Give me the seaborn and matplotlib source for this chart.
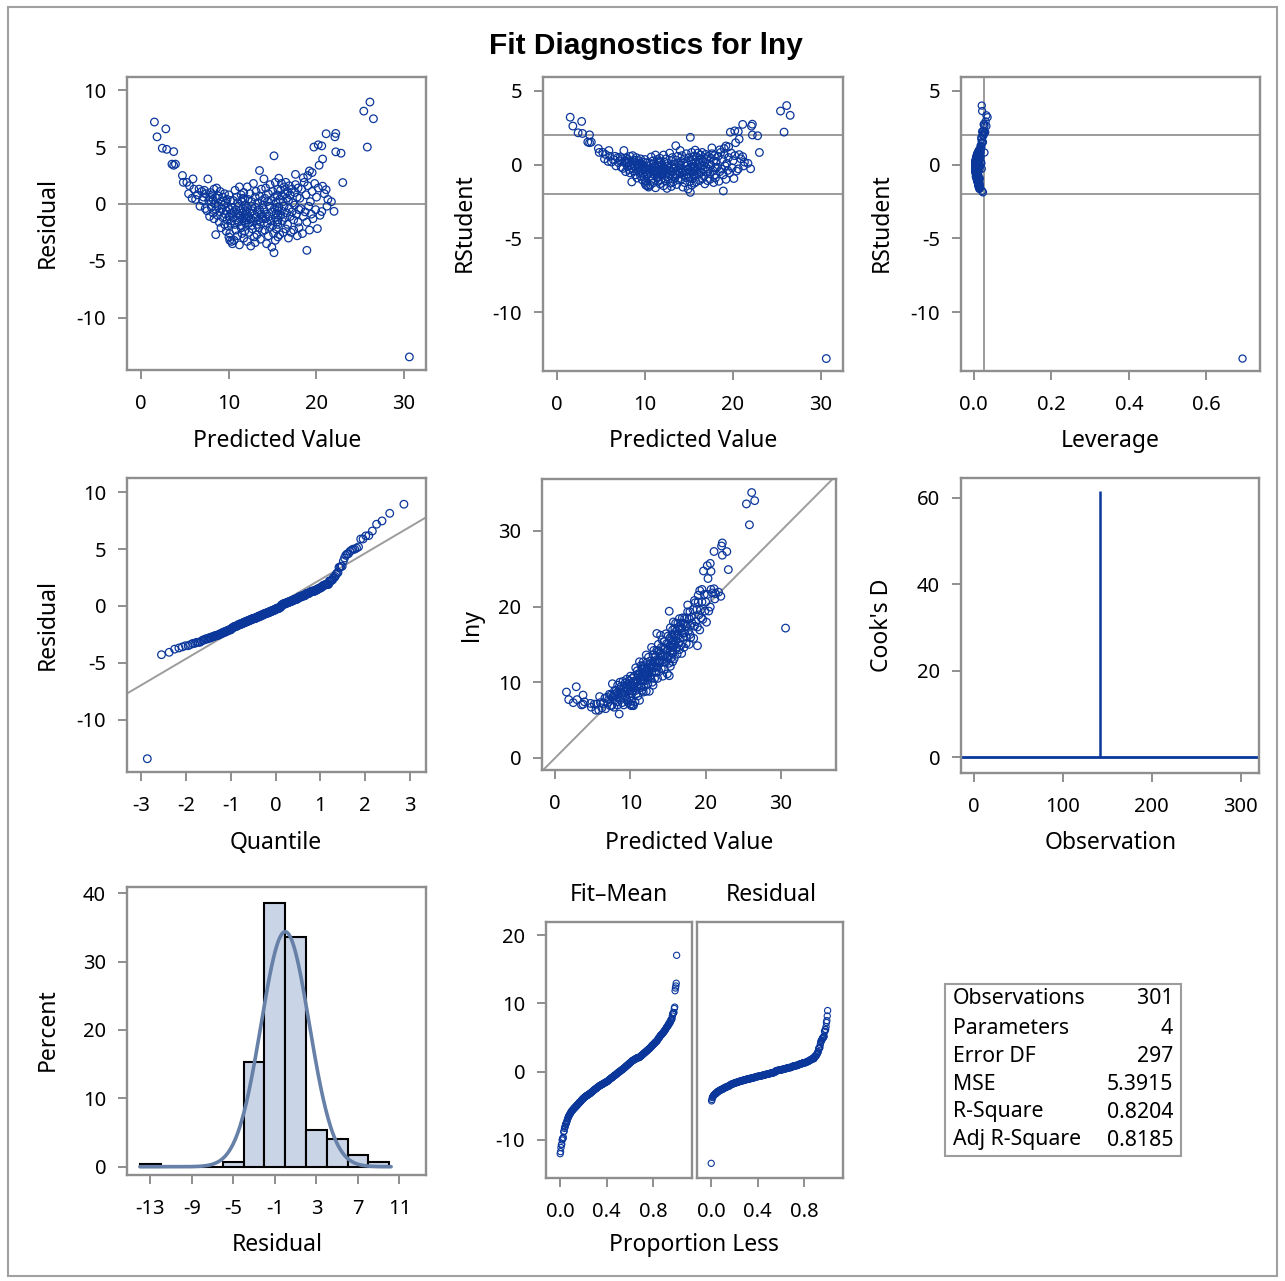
import numpy as np
import pandas as pd
import matplotlib
matplotlib.use("Agg")
import matplotlib.pyplot as plt
from matplotlib.patches import Rectangle
from matplotlib.ticker import FormatStrFormatter
import seaborn as sns

# ---------------- data ----------------
# predicted values, observation order (obs 142 is the influential point)
PRED = [
    1.5, 1.8, 2.4, 2.8, 2.9,
    3.5, 3.7, 3.7, 3.9, 4.7, 4.8,
    5.2, 5.4, 5.5, 5.8, 5.9, 6.0, 6.2, 6.4, 6.6, 6.7, 6.9, 7.0, 7.1, 7.2, 7.3,
    7.4, 7.5, 7.6, 7.7, 7.8, 7.8, 7.9, 8.0, 8.0, 8.1, 8.2, 8.2, 8.3, 8.3, 8.4,
    8.5, 8.5, 8.6, 8.6, 8.7, 8.8, 8.8, 8.9, 9.0, 9.0, 9.1, 9.1, 9.2, 9.3, 9.3,
    9.4, 9.5, 9.5, 9.6, 9.6, 9.7, 9.7, 9.8, 9.8, 9.9, 9.9, 10.0, 10.0, 10.0,
    10.1, 10.1, 10.1, 10.2, 10.2, 10.3, 10.3, 10.3,
    10.4, 10.4, 10.5, 10.5, 10.6, 10.6, 10.7, 10.7, 10.8, 10.8, 10.9, 10.9,
    11.0, 11.0, 11.0, 11.1, 11.1, 11.2, 11.2, 11.3, 11.3, 11.4, 11.4, 11.4,
    11.5, 11.5, 11.5, 11.6, 11.6, 11.6, 11.7, 11.7, 11.7, 11.8, 11.8, 11.8,
    11.9, 11.9, 11.9, 12.0, 12.0, 12.0,
    12.1, 12.1, 12.1, 12.2, 12.2, 12.3, 12.3, 12.4, 12.4, 12.5, 12.5, 12.6,
    12.6, 12.6, 12.7, 12.7, 12.8, 12.8, 12.9, 12.9, 13.0,
    30.6,
    13.0, 13.0, 13.1, 13.1, 13.2, 13.2, 13.3, 13.3, 13.4, 13.4, 13.5, 13.5,
    13.5, 13.6, 13.6, 13.7, 13.7, 13.8, 13.8, 13.8, 13.9, 13.9,
    14.0, 14.0, 14.1, 14.1, 14.2, 14.2, 14.3, 14.3, 14.4, 14.4, 14.5, 14.5,
    14.6, 14.6, 14.7, 14.7, 14.8, 14.8, 14.9, 14.9, 15.0, 15.0, 15.1, 15.15,
    15.15, 15.2, 15.2, 15.3, 15.3, 15.3, 15.4, 15.4, 15.4, 15.5, 15.5, 15.5,
    15.6, 15.6, 15.6, 15.6, 15.6, 15.6,
    15.7, 15.7, 15.8, 15.8, 15.9, 15.9, 16.0, 16.0, 16.1, 16.1, 16.2, 16.2,
    16.3, 16.3, 16.4, 16.4, 16.5, 16.5, 16.6, 16.6, 16.7, 16.7, 16.8, 16.8,
    16.9, 16.9, 17.0, 17.0, 17.1, 17.2, 17.2, 17.3, 17.4, 17.4, 17.5, 17.5,
    17.6, 17.6, 17.7, 17.8, 17.8, 17.9, 17.9, 18.0, 18.0,
    18.1, 18.2, 18.3, 18.4, 18.5, 18.5, 18.6, 18.7, 18.8, 18.9, 18.9, 19.0,
    19.0, 19.1, 19.2, 19.2, 19.3, 19.4, 19.5, 19.5, 19.6, 19.7, 19.8, 19.9,
    20.0, 20.1, 20.2, 20.2, 20.3, 20.4,
    20.6, 20.6, 20.7, 20.7, 20.9, 21.1, 21.1, 21.2, 21.3, 21.7, 22.0, 22.1,
    22.2, 22.2, 22.8, 23.0,
    25.4, 25.8, 26.1, 26.5,
]

RESID = [
    7.2, 5.9, 4.9, 6.6, 4.8,
    3.5, 3.4, 4.6, 3.5, 2.5, 1.9,
    1.9, 0.9, 1.6, 0.5, 2.2, 1.3, 0.4, 0.8, 1.3, -0.2, 1.1, 0.3, 0.6, 1.2, -0.4,
    0.9, -0.6, 2.2, 0.3, -1.1, 0.6, 1.0, -0.3, 0.2, 0.8, -0.8, 0.4, -1.3, 1.3, 0.0,
    -2.7, -0.5, 1.4, 0.5, -1.0, -0.2, 0.7, -1.6, 1.1, -0.7, 0.2, -2.1, -0.4, 0.6, -1.2,
    -0.1, -1.8, 0.9, -0.9, 0.1, -2.4, -0.6, 0.4, -1.4, -0.3, -1.95, 0.8, -1.1, -2.9,
    -2.6, -0.5, -3.2, -1.7, 0.3, -3.3, -0.8, -1.5,
    -0.3, -3.5, 0.3, -1.2, -0.7, -3.2, 1.2, -1.8, -0.5, -2.3, 0.6, -1.4,
    -0.9, -2.8, 0.1, -1.6, -0.2, -3.6, 1.5, -1.1, -0.6, -2.1, 0.8, -1.9,
    -1.3, 0.2, -2.6, -0.8, 0.5, -0.4, -3.0, -1.5, 1.0, -1.0, -2.4, 0.4,
    -1.7, -0.1, -1.2, -0.6, -1.4, -0.9,
    1.5, -0.4, -3.3, -1.1, 0.4, -1.7, -2.5, -0.8, 0.9, -1.3, -3.7, -0.2,
    0.2, -1.9, -2.2, -0.6, 1.8, -1.5, -2.9, -1.0, 0.6,
    -13.45,
    -0.3, -3.4, -1.2, 1.1, -1.8, -2.7, -0.7, 0.1, -1.4, -2.1, 2.94, -0.5,
    0.7, -1.6, -3.1, -0.9, 1.3, -1.1, -2.4, 0.3, -0.1, -1.3,
    2.2, -0.5, -2.3, 0.5, -1.3, 1.4, -0.9, -3.5, 0.2, -1.7, -2.8, 0.9,
    -0.2, -1.1, 1.7, -2.05, -1.5, 0.3, -3.8, -0.7, 1.1, -1.9, -2.6, -4.29,
    4.23, 0.6, -0.4, -3.2, 1.9, -1.2, -0.8, -2.2, 0.1, -1.6, 0.8, -0.3,
    -2.9, 1.3, -1.0, -1.4, -0.6, -1.8,
    2.26, -0.3, 0.4, -2.7, -1.0, 1.2, -0.6, 1.8, -1.5, 0.7, -2.5, 0.2,
    -0.2, 1.5, -1.2, 0.9, -2.2, 1.9, -0.8, 0.5, -1.8, 1.1, -3.0, 0.3,
    -0.4, 1.6, -1.1, 0.8, -2.5, 1.3, -0.7, 0.1, -1.4, -2.3, 1.0, -0.1,
    2.6, 1.7, -0.9, -2.8, 0.6, -1.6, 1.4, -2.1, -0.5,
    0.5, -0.4, 1.3, -2.6, 2.3, -1.1, 1.9, -0.7, 0.8, -4.08, -1.6, 2.5,
    1.6, -0.2, -2.3, 2.9, 0.2, -0.9, 2.76, 1.1, -1.3, 5.0, 1.8, -0.5,
    0.6, -2.17, 5.2, 1.4, 3.4, -1.0,
    5.1, -0.67, 3.95, 1.56, 0.9, 6.17, 1.25, -0.2, 0.4, 0.2, -0.65, 5.9,
    4.58, 6.2, 4.46, 1.88,
    8.16, 5.0, 8.96, 7.49,
]

# leverage (hat values) in thousandths
LEVERAGE_MILLI = [
    36, 33, 28, 31, 27,
    24, 22, 25, 21, 19, 18,
    17, 15, 16, 14, 13, 15, 12, 14, 11, 13, 12, 10, 11, 12, 9,
    12, 9, 14, 8, 11, 7, 10, 6, 9, 12, 8, 5, 11, 7, 9, 13, 6, 10, 8, 12,
    5, 9, 7, 11, 6, 10, 14, 8, 5, 9, 12, 7, 6, 10, 8, 11, 5, 9, 7, 13,
    6, 8, 10, 15, 12, 7, 16, 9, 6, 14, 8, 11,
    6, 15, 8, 5, 9, 13, 7, 6, 10, 8, 5, 7, 9, 11, 6, 8, 4, 16, 10, 7,
    5, 9, 6, 8, 5, 7, 10, 4, 6, 5, 12, 8, 9, 7, 11, 5, 8, 4, 6, 7, 9, 5,
    10, 5, 14, 7, 6, 8, 11, 5, 7, 6, 15, 4, 5, 9, 10, 6, 12, 7, 13, 5, 6,
    693,
    4, 14, 7, 9, 8, 11, 5, 6, 7, 10, 18, 4, 6, 8, 13, 5, 9, 6, 11, 4, 5, 7,
    14, 5, 10, 6, 7, 9, 5, 13, 4, 8, 11, 6, 5, 7, 9, 9, 6, 4, 15, 5,
    8, 8, 10, 24, 20, 6, 5, 12, 11, 7, 5, 9, 4, 8, 7, 5, 12, 9, 6, 7, 5, 9,
    15, 6, 7, 11, 6, 9, 5, 12, 8, 7, 10, 5, 6, 10, 7, 8, 9, 13, 6, 7,
    8, 9, 12, 6, 5, 11, 7, 8, 10, 9, 7, 6, 8, 10, 9, 6, 18, 12, 7, 12,
    8, 9, 11, 10, 8,
    9, 8, 12, 14, 17, 10, 14, 9, 11, 22, 12, 18, 13, 9, 14, 19, 10, 11,
    20, 12, 11, 24, 14, 10, 12, 16, 25, 14, 22, 12,
    22, 15, 20, 16, 17, 26, 18, 17, 19, 20, 21, 28, 24, 27, 25, 28,
    22, 30, 21, 33,
]

N_PARAMS = 4
MSE = 5.3915
STAT_LABELS = ["Observations", "Parameters", "Error DF", "MSE", "R-Square", "Adj R-Square"]
STAT_VALUES = ["301", "4", "297", "5.3915", "0.8204", "0.8185"]
HIST_BIN_EDGES = list(range(-14, 12, 2))

# ---------------- derived diagnostics ----------------
pred = np.array(PRED, float)
resid = np.array(RESID, float)
lev = np.array(LEVERAGE_MILLI, float) / 1000.0
n = len(pred)
p = N_PARAMS
rmse = np.sqrt(MSE)
lny = pred + resid
obs = np.arange(1, n + 1)
sse = MSE * (n - p)
s_i = np.sqrt((sse - resid ** 2 / (1 - lev)) / (n - p - 1))
rstudent = resid / (s_i * np.sqrt(1 - lev))
cooks = resid ** 2 * lev / (p * MSE * (1 - lev) ** 2)


def norm_ppf(pp):
    a = [-3.969683028665376e+01, 2.209460984245205e+02, -2.759285104469687e+02,
         1.383577518672690e+02, -3.066479806614716e+01, 2.506628277459239e+00]
    b = [-5.447609879822406e+01, 1.615858368580409e+02, -1.556989798598866e+02,
         6.680131188771972e+01, -1.328068155288572e+01]
    c = [-7.784894002430293e-03, -3.223964580411365e-01, -2.400758277161838e+00,
         -2.549732539343734e+00, 4.374664141464968e+00, 2.938163982698783e+00]
    d = [7.784695709041462e-03, 3.224671290700398e-01, 2.445134137142996e+00,
         3.754408661907416e+00]
    pp = np.asarray(pp, float)
    out = np.empty_like(pp)
    plow = 0.02425
    lo = pp < plow
    hi = pp > 1 - plow
    mid = ~(lo | hi)
    q = np.sqrt(-2 * np.log(pp[lo]))
    out[lo] = (((((c[0]*q+c[1])*q+c[2])*q+c[3])*q+c[4])*q+c[5]) / ((((d[0]*q+d[1])*q+d[2])*q+d[3])*q+1)
    q = pp[mid] - 0.5
    r = q * q
    out[mid] = (((((a[0]*r+a[1])*r+a[2])*r+a[3])*r+a[4])*r+a[5])*q / (((((b[0]*r+b[1])*r+b[2])*r+b[3])*r+b[4])*r+1)
    q = np.sqrt(-2 * np.log(1 - pp[hi]))
    out[hi] = -(((((c[0]*q+c[1])*q+c[2])*q+c[3])*q+c[4])*q+c[5]) / ((((d[0]*q+d[1])*q+d[2])*q+d[3])*q+1)
    return out


ranks = np.arange(1, n + 1)
qq_x = norm_ppf((ranks - 0.375) / (n + 0.25))
qq_y = np.sort(resid)
prop = (ranks - 0.5) / n
fit_mean = np.sort(pred - pred.mean())
resid_sorted = np.sort(resid)

# ---------------- style ----------------
sns.set_theme(style="white")
plt.rcParams["font.family"] = ["Noto Sans", "DejaVu Sans"]
plt.rcParams["axes.unicode_minus"] = False
plt.rcParams["text.color"] = "black"
plt.rcParams["axes.labelcolor"] = "black"
plt.rcParams["xtick.color"] = "black"
plt.rcParams["ytick.color"] = "black"

BLUE = "#0b379b"
REF_GRAY = "#9c9c9c"
FRAME = "#8e8e8e"
HIST_FILL = "#c9d4e6"
CURVE = "#6680a8"
TICK_FS = 14.5
LABEL_FS = 16.5

W, H = 1285, 1281
fig = plt.figure(figsize=(W / 100, H / 100), dpi=100)
fig.patch.set_facecolor("white")


def add_ax(x0, y0, x1, y1):
    return fig.add_axes([x0 / W, 1 - y1 / H, (x1 - x0) / W, (y1 - y0) / H])


def style(ax):
    for s in ax.spines.values():
        s.set_color(FRAME)
        s.set_linewidth(1.7)
    ax.tick_params(direction="out", length=6.5, width=1.4, color=FRAME,
                   labelsize=TICK_FS, labelcolor="black",
                   bottom=True, left=True)
    ax.tick_params(axis="x", pad=10.5)
    ax.tick_params(axis="y", pad=8.5)
    ax.set_xlabel("")
    ax.set_ylabel("")
    ax.grid(False)
    ax.set_facecolor("white")


def ftext(x, y, s, **kw):
    kw.setdefault("ha", "center")
    kw.setdefault("va", "center")
    kw.setdefault("fontsize", LABEL_FS)
    kw.setdefault("color", "black")
    fig.text(x / W, 1 - y / H, s, **kw)


def scatter(ax, x, y, size=30, lw=0.9):
    sns.scatterplot(x=x, y=y, ax=ax, marker="o", s=size, linewidth=lw,
                    facecolor="none", edgecolor=BLUE, zorder=3)
    for coll in ax.collections:
        coll.set_facecolor("none")
        coll.set_edgecolor(BLUE)


# Panel A: Residual vs Predicted
axA = add_ax(127, 77, 426, 370)
axA.axhline(0, color=REF_GRAY, lw=1.4, zorder=1)
scatter(axA, pred, resid)
axA.set_xlim(-1.63, 32.5)
axA.set_ylim(-14.6, 11.16)
axA.set_xticks([0, 10, 20, 30])
axA.set_yticks([-10, -5, 0, 5, 10])
style(axA)

# Panel B: RStudent vs Predicted
axB = add_ax(543, 77, 843, 371)
for v in (-2, 2):
    axB.axhline(v, color=REF_GRAY, lw=1.4, zorder=1)
scatter(axB, pred, rstudent)
axB.set_xlim(-1.59, 32.5)
axB.set_ylim(-13.97, 5.93)
axB.set_xticks([0, 10, 20, 30])
axB.set_yticks([-10, -5, 0, 5])
style(axB)

# Panel C: RStudent vs Leverage
axC = add_ax(961, 77, 1260, 371)
for v in (-2, 2):
    axC.axhline(v, color=REF_GRAY, lw=1.4, zorder=1)
axC.axvline(2 * p / n, color=REF_GRAY, lw=1.4, zorder=1)
scatter(axC, lev, rstudent, size=26)
axC.set_xlim(-0.0325, 0.738)
axC.set_ylim(-13.97, 5.93)
axC.set_xticks([0, 0.2, 0.4, 0.6])
axC.xaxis.set_major_formatter(FormatStrFormatter("%.1f"))
axC.set_yticks([-10, -5, 0, 5])
style(axC)

# Panel D: QQ plot of residuals
axD = add_ax(127, 478, 426, 772)
axD.axline((0, 0), slope=rmse, color=REF_GRAY, lw=1.4, zorder=1)
scatter(axD, qq_x, qq_y)
axD.set_xlim(-3.32, 3.36)
axD.set_ylim(-14.62, 11.27)
axD.set_xticks([-3, -2, -1, 0, 1, 2, 3])
axD.set_yticks([-10, -5, 0, 5, 10])
style(axD)

# Panel E: lny vs Predicted
axE = add_ax(542, 479, 836, 770)
axE.axline((0, 0), (1, 1), color=REF_GRAY, lw=1.4, zorder=1)
scatter(axE, pred, lny)
axE.set_xlim(-1.75, 37.3)
axE.set_ylim(-1.6, 36.85)
axE.set_xticks([0, 10, 20, 30])
axE.set_yticks([0, 10, 20, 30])
style(axE)

# Panel F: Cook's D vs Observation
axF = add_ax(961, 478, 1259, 773)
axF.axhline(0, color=BLUE, lw=2.0, zorder=2)
axF.vlines(obs, 0, cooks, color=BLUE, lw=1.8, zorder=3)
axF.set_xlim(-14.2, 320.6)
axF.set_ylim(-3.7, 64.6)
axF.set_xticks([0, 100, 200, 300])
axF.set_yticks([0, 20, 40, 60])
style(axF)

# Panel G: histogram of residuals with normal curve
axG = add_ax(127, 887, 426, 1175)
sns.histplot(x=resid, bins=HIST_BIN_EDGES, stat="percent", ax=axG,
             color=HIST_FILL, edgecolor="black", linewidth=1.5, alpha=1.0, zorder=2)
xs = np.linspace(-14, 10.2, 300)
ys = 100 * 2 * np.exp(-0.5 * (xs / rmse) ** 2) / (rmse * np.sqrt(2 * np.pi))
sns.lineplot(x=xs, y=ys, ax=axG, color=CURVE, lw=2.6, zorder=3)
axG.set_xlim(-15.24, 13.56)
axG.set_ylim(-1.21, 40.9)
axG.set_xticks([-13, -9, -5, -1, 3, 7, 11])
axG.set_yticks([0, 10, 20, 30, 40])
style(axG)

# Panel H: residual-fit spread plot
axH1 = add_ax(546, 922, 692, 1178)
axH2 = add_ax(697, 922, 843, 1178)
scatter(axH1, prop, fit_mean, size=20, lw=0.8)
scatter(axH2, prop, resid_sorted, size=20, lw=0.8)
for ax in (axH1, axH2):
    ax.set_xlim(-0.12, 1.13)
    ax.set_ylim(-15.6, 21.95)
    ax.set_xticks([0, 0.4, 0.8])
    ax.xaxis.set_major_formatter(FormatStrFormatter("%.1f"))
    ax.set_yticks([-10, 0, 10, 20])
    style(ax)
axH2.tick_params(left=False, labelleft=False)

# ---------------- texts ----------------
ftext(646, 46, "Fit Diagnostics for lny", fontsize=21.5, fontweight="bold",
      family=["Liberation Sans", "DejaVu Sans"])

ftext(48, 223, "Residual", rotation=90)
ftext(465, 223, "RStudent", rotation=90)
ftext(882, 223, "RStudent", rotation=90)
ftext(277, 441, "Predicted Value")
ftext(693, 441, "Predicted Value")
ftext(1110, 441, "Leverage")

ftext(48, 625, "Residual", rotation=90)
ftext(472, 625, "lny", rotation=90)
ftext(882, 625, "Cook's D", rotation=90)
ftext(276, 843, "Quantile")
ftext(689, 843, "Predicted Value")
ftext(1111, 843, "Observation")

ftext(48, 1030, "Percent", rotation=90)
ftext(277, 1245, "Residual")
ftext(619, 895, "Fit\u2013Mean")
ftext(771, 895, "Residual")
ftext(694, 1245, "Proportion Less")

# fit statistics table
fig.add_artist(Rectangle((945 / W, 1 - 1156 / H), (1181 - 945) / W, (1156 - 984) / H,
                         transform=fig.transFigure, fill=False, edgecolor=REF_GRAY, lw=1.5))
row_y = [999, 1028, 1056, 1084, 1112, 1140]
for yy, lab, val in zip(row_y, STAT_LABELS, STAT_VALUES):
    ftext(953, yy, lab, ha="left", fontsize=15.3)
    ftext(1173, yy, val, ha="right", fontsize=15.3)

# outer border
fig.add_artist(Rectangle((8 / W, 1 - 1276 / H), (1277 - 8) / W, (1276 - 7) / H,
                         transform=fig.transFigure, fill=False, edgecolor="#a0a0a0", lw=1.5))

fig.savefig("out.png", dpi=100, facecolor="white")
